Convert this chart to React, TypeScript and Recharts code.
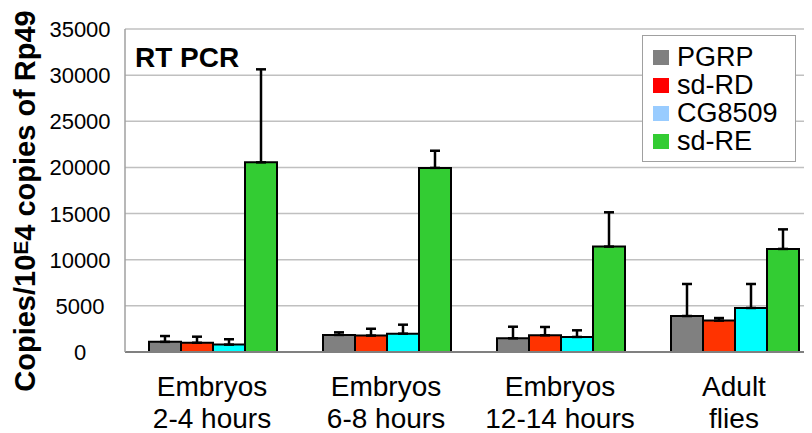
import React from 'react';
import { BarChart, Bar, XAxis, YAxis, CartesianGrid, ErrorBar, Customized } from 'recharts';

const categoryLine1 = ['Embryos', 'Embryos', 'Embryos', 'Adult'];
const categoryLine2 = ['2-4 hours', '6-8 hours', '12-14 hours', 'flies'];
const categories = categoryLine1.map((c, i) => `${c} ${categoryLine2[i]}`);

const seriesNames = ['PGRP', 'sd-RD', 'CG8509', 'sd-RE'];
const barColors = ['#808080', '#ff3300', '#00ffff', '#33cc33'];
const legendColors = ['#808080', '#ff0000', '#99ccff', '#33cc33'];

const pgrp = [1100, 1850, 1480, 3900];
const pgrpSD = [630, 280, 1260, 3470];
const sdRD = [1000, 1780, 1810, 3400];
const sdRDSD = [660, 740, 900, 280];
const cg8509 = [800, 1990, 1630, 4770];
const cg8509SD = [580, 970, 720, 2600];
const sdRE = [20550, 19950, 11420, 11170];
const sdRESD = [10080, 1860, 3720, 2120];

const yTicks = [0, 5000, 10000, 15000, 20000, 25000, 30000, 35000];

const values = [pgrp, sdRD, cg8509, sdRE];
const sds = [pgrpSD, sdRDSD, cg8509SD, sdRESD];

const data = categories.map((name, i) => {
  const row: any = { name };
  values.forEach((v, s) => {
    row[`v${s}`] = v[i];
    row[`e${s}`] = [0, sds[s][i]];
  });
  return row;
});

const FONT = "'Liberation Sans', Arial, sans-serif";

const XTick = (props: any) => {
  const { x, y, payload } = props;
  const idx = categories.indexOf(payload.value);
  return (
    <text x={x} y={y} textAnchor="middle" fontSize={28} fontFamily={FONT} fill="#000">
      <tspan x={x} dy={36}>{categoryLine1[idx]}</tspan>
      <tspan x={x} dy={32}>{categoryLine2[idx]}</tspan>
    </text>
  );
};

const YTick = (props: any) => {
  const { y, payload } = props;
  return (
    <text x={72} y={y} dy={8} textAnchor="middle" fontSize={22} fontFamily={FONT} fill="#000">
      {payload.value}
    </text>
  );
};

const YLabel = () => (
  <text
    transform="translate(27,193) rotate(-90)"
    textAnchor="middle"
    fontSize={29}
    fontWeight="bold"
    fontFamily={FONT}
    fill="#000"
  >
    <tspan>Copies/10</tspan>
    <tspan fontSize={21} dy={-7}>E</tspan>
    <tspan dy={7}>4 copies of Rp49</tspan>
  </text>
);

const Title = () => (
  <text x={127} y={59} fontSize={28} fontWeight="bold" fontFamily={FONT} fill="#000">
    RT PCR
  </text>
);

const LegendBox = () => (
  <div
    style={{
      position: 'absolute',
      left: 634,
      top: 27,
      width: 154,
      height: 127,
      border: '1.5px solid #a0a0a0',
      background: '#fff',
      boxSizing: 'border-box',
      paddingTop: 7,
      fontFamily: FONT,
    }}
  >
    {seriesNames.map((n, i) => (
      <div key={n} style={{ display: 'flex', alignItems: 'center', height: 28 }}>
        <div style={{ width: 16, height: 15, background: legendColors[i], marginLeft: 10, marginRight: 8 }} />
        <span style={{ fontSize: 27, lineHeight: '28px', color: '#000' }}>{n}</span>
      </div>
    ))}
  </div>
);

export default function App() {
  return (
    <div style={{ width: 804, height: 425, overflow: 'hidden', position: 'relative' }}>
      <BarChart
        width={830}
        height={425}
        data={data}
        margin={{ top: 21, right: 17, bottom: 0, left: 0 }}
        barCategoryGap={24}
        barGap={0}
      >
        <CartesianGrid horizontal vertical={false} stroke="#c0c0c0" strokeWidth={1.5} />
        <XAxis
          dataKey="name"
          height={81}
          tick={<XTick />}
          tickLine={false}
          interval={0}
          axisLine={{ stroke: '#808080', strokeWidth: 2 }}
        />
        <YAxis
          width={117}
          domain={[0, 35000]}
          ticks={yTicks}
          tick={<YTick />}
          tickLine={false}
          axisLine={{ stroke: '#a0a0a0', strokeWidth: 1.5 }}
          label={<YLabel />}
        />
        {seriesNames.map((n, s) => (
          <Bar
            key={n}
            dataKey={`v${s}`}
            name={n}
            fill={barColors[s]}
            stroke="#000"
            strokeWidth={2}
            isAnimationActive={false}
          >
            <ErrorBar dataKey={`e${s}`} direction="y" width={5} stroke="#000" strokeWidth={2.5} />
          </Bar>
        ))}
        <Customized component={Title} />
      </BarChart>
      <LegendBox />
    </div>
  );
}
